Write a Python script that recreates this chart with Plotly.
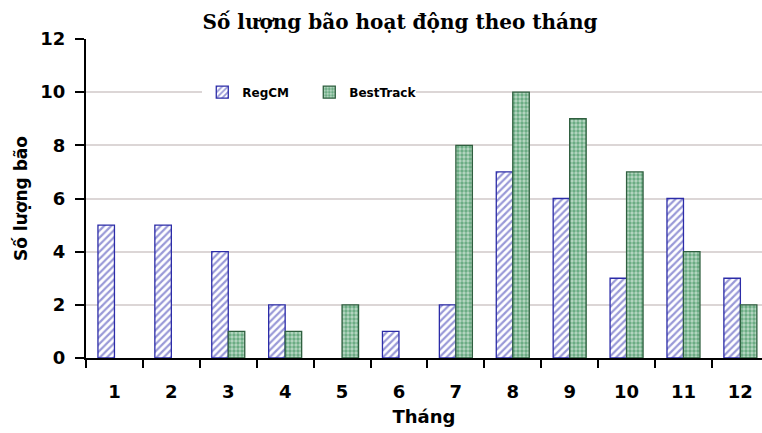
import plotly.graph_objects as go

months = ["1", "2", "3", "4", "5", "6", "7", "8", "9", "10", "11", "12"]
regcm = [5, 5, 4, 2, 0, 1, 2, 7, 6, 3, 6, 3]
besttrack = [0, 0, 1, 1, 2, 0, 8, 10, 9, 7, 4, 2]

# zero counts are left empty so no flat bar outline is drawn
def drop_zero(values):
    return [v if v != 0 else None for v in values]

sans = "DejaVu Sans"

fig = go.Figure()
fig.add_trace(go.Bar(
    x=months, y=drop_zero(regcm), name="RegCM",
    marker=dict(
        color="white",
        line=dict(color="#2c2ca8", width=1.3),
        pattern=dict(shape="/", fgcolor="#3434b0", bgcolor="white", size=5, solidity=0.45),
    ),
))
fig.add_trace(go.Bar(
    x=months, y=drop_zero(besttrack), name="BestTrack",
    marker=dict(
        color="#66aa80",
        line=dict(color="#2f5f3f", width=1.3),
        pattern=dict(shape=".", fgcolor="white", bgcolor="#64a87e", size=4, solidity=0.55),
    ),
))

fig.update_layout(
    width=762, height=433,
    margin=dict(l=86, r=0, t=39, b=75),
    paper_bgcolor="white", plot_bgcolor="white",
    barmode="group", bargap=0.42, bargroupgap=0,
    title=dict(
        text="Số lượng bão hoạt động theo tháng",
        x=0.525, xanchor="center", y=1 - 22 / 433, yanchor="middle",
        font=dict(family="DejaVu Serif", size=20, color="black", weight="bold"),
    ),
    legend=dict(
        orientation="h", x=0.172, y=10 / 12, xanchor="left", yanchor="middle",
        bgcolor="white", font=dict(family=sans, size=12, color="black", weight="bold"),
        traceorder="normal", entrywidth=62, entrywidthmode="pixels",
    ),
    font=dict(family=sans, color="black"),
)

fig.update_xaxes(
    type="category", range=[-0.5, 11.38],
    showline=True, linecolor="black", linewidth=2,
    ticks="outside", tickson="boundaries", ticklen=8, tickcolor="black", tickwidth=2,
    tickfont=dict(family=sans, size=18, color="black", weight="bold"),
    ticklabelstandoff=16,
    showgrid=False,
    title=dict(text="Tháng", font=dict(family=sans, size=18, color="black", weight="bold"), standoff=10),
)
fig.update_yaxes(
    range=[0, 12], dtick=2,
    showline=True, linecolor="black", linewidth=2,
    ticks="outside", ticklen=9, tickcolor="black", tickwidth=2,
    tickfont=dict(family=sans, size=18, color="black", weight="bold"),
    ticklabelstandoff=6,
    showgrid=True, gridcolor="#dcd6d6", gridwidth=1.5,
    zeroline=False,
    title=dict(text="Số lượng bão", font=dict(family=sans, size=17, color="black", weight="bold"), standoff=8),
)

fig.write_html("out.html")
